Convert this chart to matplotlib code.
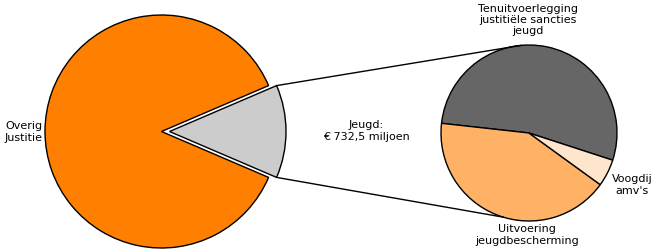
import numpy as np
import matplotlib.pyplot as plt

# values in millions of euro
main_labels = ['Jeugd', 'Overig Justitie']
main_values = [732.5, 4950]
sub_labels = ['Tenuitvoerlegging\njustitiële sancties\njeugd', 'Uitvoering\njeugdbescherming', "Voogdij\namv's"]
sub_values = [390, 306, 36.5]

main_colors = ['#CCCCCC', '#FF7F00']
sub_colors = ['#666666', '#FFB266', '#FFE5CC']


def main():
    fig = plt.figure(figsize=(6.55, 2.5), dpi=100)
    ax = fig.add_axes([0, 0, 1, 1])

    big_c, big_r = (161.5, 118.5), 116.5
    small_c, small_r = (529, 117), 88

    # big pie, Jeugd slice centred on 0 degrees and pulled out a bit
    # (explode is in data units here, not a fraction of the radius)
    jeugd_angle = 360 * main_values[0] / sum(main_values)
    wedges, _ = ax.pie(main_values, colors=main_colors, startangle=-jeugd_angle / 2,
                       explode=[8, 0], center=big_c, radius=big_r,
                       wedgeprops=dict(edgecolor='black', linewidth=1.0))

    ax.pie(sub_values, colors=sub_colors, startangle=-18, center=small_c, radius=small_r,
           wedgeprops=dict(edgecolor='black', linewidth=1.0))

    ax.set_xlim(0, 655)
    ax.set_ylim(0, 250)
    ax.set_aspect('equal')
    ax.axis('off')

    # connector lines from the Jeugd wedge to the small pie
    w = wedges[0]
    cx, cy = w.center
    for theta, target in [(w.theta2, 95), (w.theta1, -107)]:
        x0 = cx + w.r * np.cos(np.radians(theta))
        y0 = cy + w.r * np.sin(np.radians(theta))
        x1 = small_c[0] + small_r * np.cos(np.radians(target))
        y1 = small_c[1] + small_r * np.sin(np.radians(target))
        ax.plot([x0, x1], [y0, y1], color='black', linewidth=1.0)

    fs = 8
    ax.text(43, 118, 'Overig\nJustitie', ha='right', va='center', multialignment='center',
            fontsize=fs, linespacing=1.3)
    ax.text(366, 119, 'Jeugd:\n€ 732,5 miljoen', ha='center', va='center', fontsize=fs, linespacing=1.25)
    ax.text(528, 230, sub_labels[0], ha='center', va='center', fontsize=fs, linespacing=1.1)
    ax.text(527, 15, sub_labels[1], ha='center', va='center', fontsize=fs, linespacing=1.3)
    ax.text(632, 65, sub_labels[2], ha='center', va='center', fontsize=fs, linespacing=1.3)

    fig.savefig('out.png', dpi=100)


if __name__ == "__main__":
    main()
